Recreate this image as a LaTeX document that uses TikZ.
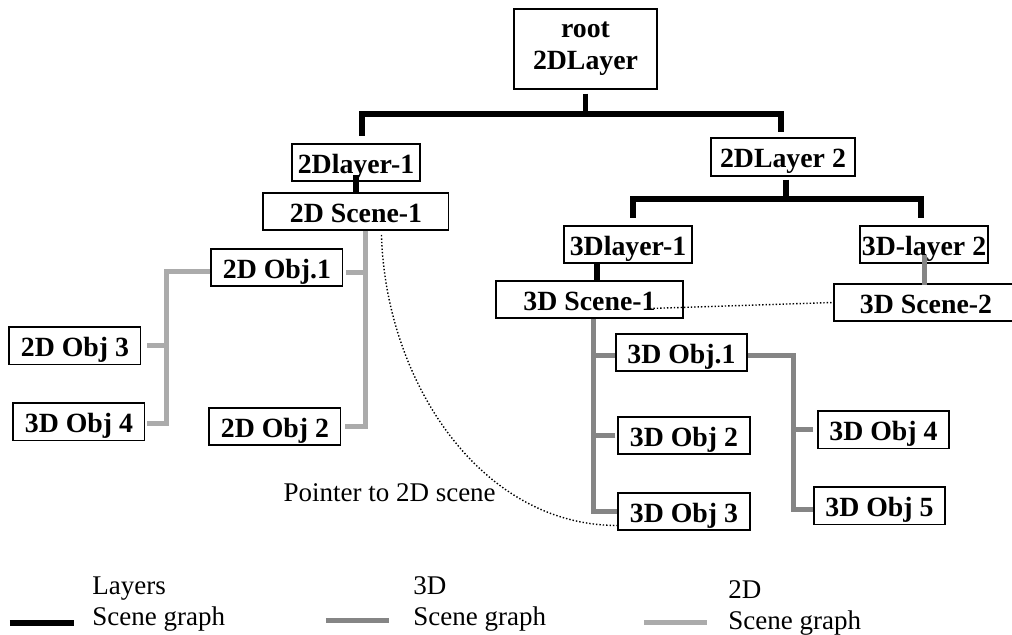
\documentclass[tikz,border=0pt]{standalone}
\usepackage{fontspec}
\setmainfont{Liberation Serif}
\usetikzlibrary{positioning, calc}
\definecolor{gray3d}{HTML}{858585}
\definecolor{gray2d}{HTML}{ABABAB}

\begin{document}
\begin{tikzpicture}[font=\fontsize{13.5}{16}\selectfont,
    box/.style={draw, line width=0.9pt, inner sep=0pt, minimum height=18.6pt, minimum width=65.6pt, text height=11pt, text depth=0pt, align=center, font=\fontsize{13.9}{16}\selectfont\bfseries},
    layer/.style={line width=2.8pt, black},
    threed/.style={line width=2.5pt, gray3d},
    twod/.style={line width=2.5pt, gray2d},
    pointer/.style={densely dotted, line width=0.7pt},
    legend/.style={anchor=west, inner sep=0pt, align=left, font=\fontsize{13.5}{15.5}\selectfont}]
    \useasboundingbox (-292.75pt,24.5pt) rectangle (213.25pt,-293pt);

    % Layers
    \node[box, text height=, text depth=, minimum width=71.6pt, minimum height=40.1pt] (root) {root\\2DLayer};
    \node[box, minimum width=64.1pt, below=26.5pt of root, xshift=-114.75pt] (lay1) {2Dlayer-1};
    \node[box, minimum width=92.6pt, below=5pt of lay1] (scn1) {2D Scene-1};
    \node[box, minimum width=72.1pt, minimum height=19.1pt, below=23.5pt of root, xshift=98.75pt] (lay2) {2DLayer 2};
    \node[box, minimum width=64.1pt, below=24pt of lay2, xshift=-77.5pt] (lay3) {3Dlayer-1};
    \node[box, minimum width=64.1pt, below=24pt of lay2, xshift=70.5pt] (lay4) {3D-layer 2};
    \node[box, minimum width=93.6pt, below=8pt of lay3, xshift=-19.25pt] (scn3a) {3D Scene-1};
    \node[box, minimum width=92.1pt, below=9.5pt of lay4, xshift=1pt] (scn3b) {3D Scene-2};

    % 2D objects
    \node[box, below=8.5pt of scn1, xshift=-39.5pt] (obj2a) {2D Obj.1};
    \node[box, below=60pt of obj2a, xshift=-1pt] (obj2b) {2D Obj 2};
    \node[box, left=34.5pt of obj2a, yshift=-39.25pt] (obj2c) {2D Obj 3};
    \node[box, below=18.5pt of obj2c, xshift=2pt] (obj2d) {3D Obj 4};

    % 3D objects
    \node[box, below=7pt of scn3a, xshift=46pt] (obj3a) {3D Obj.1};
    \node[box, below=22pt of obj3a, xshift=1.25pt] (obj3b) {3D Obj 2};
    \node[box, below=18.5pt of obj3b] (obj3c) {3D Obj 3};
    \node[box, right=34.5pt of obj3a, yshift=-38.75pt] (obj3d) {3D Obj 4};
    \node[box, below=18.5pt of obj3d, xshift=-2pt] (obj3e) {3D Obj 5};

    % Layer links
    \draw[layer, shorten <=2pt, shorten >=3.5pt] (root.south) -- ++(0,-12pt) -| ([xshift=3pt]lay1.north);
    \draw[layer, shorten <=2pt, shorten >=2.5pt] (root.south) -- ++(0,-12pt) -| ([xshift=-1pt]lay2.north);
    \draw[layer, shorten <=-3.5pt, shorten >=-1pt] (lay1.south) -- (lay1.south |- scn1.north);
    \draw[layer, shorten <=1.5pt, shorten >=3.5pt] ([xshift=1.5pt]lay2.south) -- ++(0,-11pt) -| ([xshift=2.5pt]lay3.north);
    \draw[layer, shorten <=1.5pt, shorten >=3.5pt] ([xshift=1.5pt]lay2.south) -- ++(0,-11pt) -| ([xshift=-1.5pt]lay4.north);
    \draw[layer] ([xshift=-15.5pt]lay3.south) -- ([xshift=-15.5pt]lay3.south |- scn3a.north);
    \draw[threed, shorten <=-4.5pt, shorten >=-1pt] (lay4.south) -- (lay4.south |- scn3b.north);

    % 2D scene graph
    \draw[twod, shorten >=2pt] ([xshift=4.75pt]scn1.south) |- (obj2b.east);
    \draw[twod, shorten <=1.5pt] ([yshift=-2.75pt]obj2a.east) -| ([xshift=4.75pt]scn1.south);
    \draw[twod, shorten >=1pt] ([yshift=-2.25pt]obj2a.west) -- ++(-22pt,0) coordinate (tee2) |- ([yshift=-1pt]obj2d.east);
    \draw[twod, shorten <=3pt] (obj2c.east) -- (obj2c.east -| tee2);

    % 3D scene graph
    \draw[threed] ([xshift=2.25pt]scn3a.south) coordinate (tee3) |- (obj3c.west);
    \draw[threed] ([yshift=-1.5pt]obj3a.west) -- ([yshift=-1.5pt]obj3a.west -| tee3);
    \draw[threed, shorten <=1pt] (obj3b.west) -- (obj3b.west -| tee3);
    \draw[threed] ([yshift=-1.5pt]obj3a.east) -- ++(22.5pt,0) coordinate (tee4) |- ([yshift=-1.75pt]obj3e.west);
    \draw[threed, shorten <=2pt] (obj3d.west) -- (obj3d.west -| tee4);

    % Pointers
    \draw[pointer] ([xshift=-17pt,yshift=-4.5pt]scn3a.east) -- (scn3b.west);
    \draw[pointer] ([xshift=12.75pt,yshift=-2pt]scn1.south) .. controls +(2pt,-72.5pt) and +(-69pt,0pt) .. ([yshift=-7pt]obj3c.west)
        node[pos=0.7, left, inner sep=0pt, xshift=-5pt, yshift=-1.5pt] (ptr) {Pointer to 2D scene};

    % Legend
    \node[legend] (legA) at (-246.75pt,-277.5pt) {Layers\\Scene graph};
    \node[legend] (legB) at (-86.25pt,-277.5pt) {3D\\Scene graph};
    \node[legend] (legC) at (71.25pt,-279.25pt) {2D\\Scene graph};
    \draw[layer] ([shift={(-41pt,-9.5pt)}]legA.west) -- ++(32pt,0);
    \draw[threed] ([shift={(-43.5pt,-8.5pt)}]legB.west) -- ++(31.5pt,0);
    \draw[twod] ([shift={(-42pt,-7.75pt)}]legC.west) -- ++(31.5pt,0);
\end{tikzpicture}
\end{document}
